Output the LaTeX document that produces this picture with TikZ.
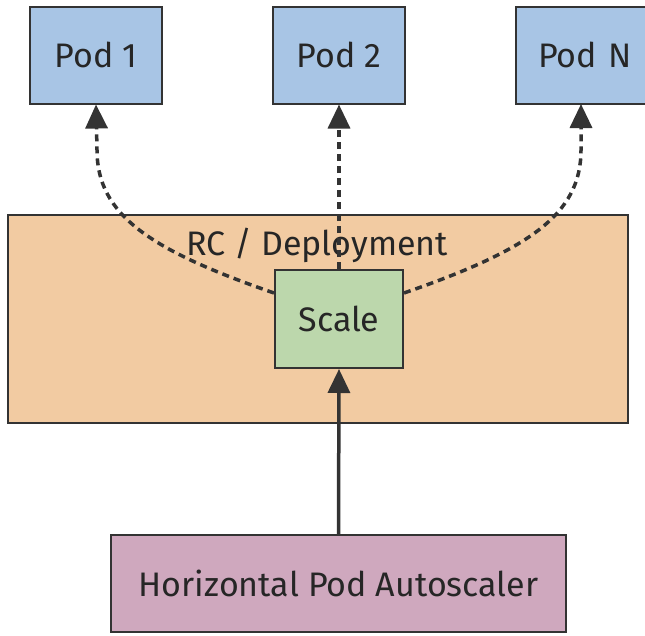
\documentclass[tikz,border=0pt]{standalone}
\usepackage{fontspec}
\setmainfont{Fira Sans}
\usetikzlibrary{arrows.meta,calc}
\definecolor{podblue}{HTML}{A8C5E5}
\definecolor{rcorange}{HTML}{F2CBA2}
\definecolor{scalegreen}{HTML}{BCD7AC}
\definecolor{hpapink}{HTML}{CFA8BE}
\definecolor{edge}{HTML}{333333}
\tikzset{
  lbl/.style={text=black!85, font=\fontsize{34}{40}\selectfont},
  box/.style={draw=edge, line width=2pt, rectangle, inner sep=0pt, lbl},
  link/.style={draw=edge, line width=3.5pt, dash pattern=on 7pt off 5pt,
    -{Triangle[length=24pt,width=22pt]}},
  solidlink/.style={draw=edge, line width=3.5pt, -{Triangle[length=24pt,width=22pt]}}
}
\begin{document}
\begin{tikzpicture}[x=1pt,y=-1pt]
\useasboundingbox (0,0) rectangle (645,635);
\begin{scope}
\clip (0,0) rectangle (645,635);
\node[box, fill=rcorange, minimum width=620pt, minimum height=208pt] (rc) at (318,319) {};
\node[lbl] (rclabel) at (317,245) {RC / Deployment};
\node[box, fill=podblue, minimum width=132pt, minimum height=97pt] (pod1) at (96,55) {Pod 1};
\node[box, fill=podblue, minimum width=132pt, minimum height=97pt] (pod2) at (339,55) {Pod 2};
\node[box, fill=podblue, minimum width=132pt, minimum height=97pt, text width=132pt, align=left] (podn) at (582,55) {\hspace{22pt}Pod N};
\node[box, fill=scalegreen, minimum width=128pt, minimum height=98pt] (scale) at (339,319) {Scale};
\node[box, fill=hpapink, minimum width=455pt, minimum height=97pt] (hpa) at (338.5,583.5) {Horizontal Pod Autoscaler};
\coordinate (sl) at ($(scale.north west)!0.24!(scale.south west)$);
\coordinate (sr) at ($(scale.north east)!0.24!(scale.south east)$);
\draw[link] (sl) .. controls (150,250) and (97,215) .. (97,150) -- (pod1.south);
\draw[link] (scale.north) -- (pod2.south);
\draw[link] (sr) .. controls (528,250) and (581,215) .. (581,150) -- (581,104);
\draw[solidlink] (hpa.north) -- (scale.south);
\end{scope}
\end{tikzpicture}
\end{document}
